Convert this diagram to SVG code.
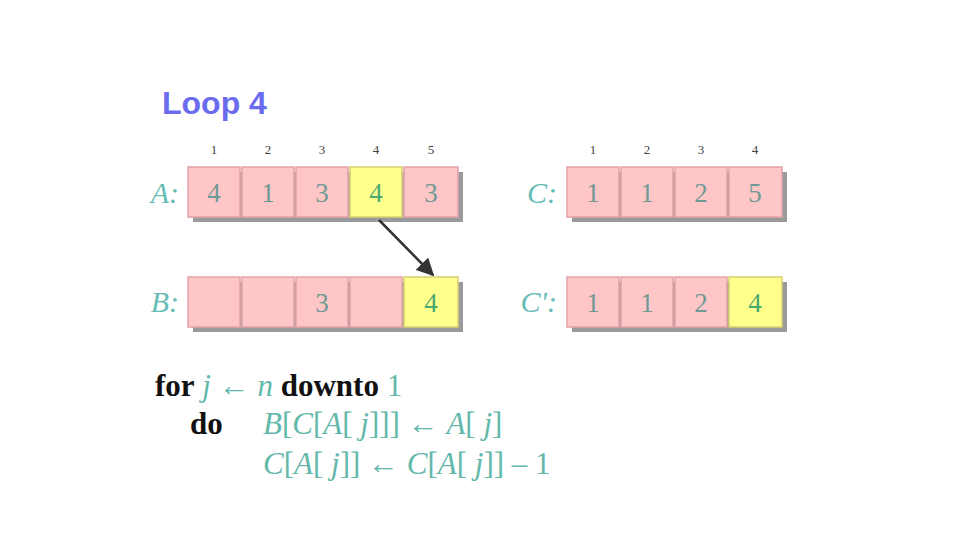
<svg xmlns="http://www.w3.org/2000/svg" width="960" height="540" viewBox="0 0 960 540">
<defs>
<style>
.cell{fill:#ffc6c8;stroke:#e2a2a8;stroke-width:1.5}
.hl{fill:#ffff8c;stroke:#d8d070;stroke-width:1.5}
.sh{fill:#9a9a9a}
.num{font-family:"Liberation Serif",serif;font-size:27px;fill:#6f9a94;text-anchor:middle}
.hnum{font-family:"Liberation Serif",serif;font-size:27px;fill:#4aa870;text-anchor:middle}
.idx{font-family:"Liberation Serif",serif;font-size:13px;fill:#444;text-anchor:middle}
.lbl{font-family:"Liberation Serif",serif;font-style:italic;font-size:30px;fill:#66bdb5;text-anchor:end}
.kw{font-family:"Liberation Serif",serif;font-weight:bold;font-size:31px;fill:#111}
.cd{font-family:"Liberation Serif",serif;font-size:31px;fill:#62b8aa}
.it{font-style:italic}
</style>
<marker id="ah" viewBox="0 0 10 10" refX="9" refY="5" markerWidth="7" markerHeight="7" orient="auto">
<path d="M0,0 L10,5 L0,10 z" fill="#333"/>
</marker>
</defs>
<rect width="960" height="540" fill="#fff"/>
<text x="162" y="114" font-family="Liberation Sans,Arial,sans-serif" font-weight="bold" font-size="32" fill="#6b6bf0">Loop 4</text>

<g id="arrayA">
<text class="lbl" x="179" y="203">A:</text>
<rect class="sh" x="193" y="172" width="270" height="50"/>
<rect class="cell" x="188" y="167" width="52" height="50"/>
<rect class="cell" x="242" y="167" width="52" height="50"/>
<rect class="cell" x="296" y="167" width="52" height="50"/>
<rect class="hl" x="350" y="167" width="52" height="50"/>
<rect class="cell" x="404" y="167" width="54" height="50"/>
<text class="num" x="214" y="202">4</text>
<text class="num" x="268" y="202">1</text>
<text class="num" x="322" y="202">3</text>
<text class="hnum" x="376" y="202">4</text>
<text class="num" x="431" y="202">3</text>
<text class="idx" x="214" y="154">1</text>
<text class="idx" x="268" y="154">2</text>
<text class="idx" x="322" y="154">3</text>
<text class="idx" x="376" y="154">4</text>
<text class="idx" x="431" y="154">5</text>
</g>

<g id="arrayC">
<text class="lbl" x="557" y="203">C:</text>
<rect class="sh" x="572" y="172" width="215" height="50"/>
<rect class="cell" x="567" y="167" width="52" height="50"/>
<rect class="cell" x="621" y="167" width="52" height="50"/>
<rect class="cell" x="675" y="167" width="52" height="50"/>
<rect class="cell" x="729" y="167" width="53" height="50"/>
<text class="num" x="593" y="202">1</text>
<text class="num" x="647" y="202">1</text>
<text class="num" x="701" y="202">2</text>
<text class="num" x="755" y="202">5</text>
<text class="idx" x="593" y="154">1</text>
<text class="idx" x="647" y="154">2</text>
<text class="idx" x="701" y="154">3</text>
<text class="idx" x="755" y="154">4</text>
</g>

<g id="arrayB">
<text class="lbl" x="179" y="312">B:</text>
<rect class="sh" x="193" y="282" width="270" height="50"/>
<rect class="cell" x="188" y="277" width="52" height="50"/>
<rect class="cell" x="242" y="277" width="52" height="50"/>
<rect class="cell" x="296" y="277" width="52" height="50"/>
<rect class="cell" x="350" y="277" width="52" height="50"/>
<rect class="hl" x="404" y="277" width="54" height="50"/>
<text class="num" x="322" y="312">3</text>
<text class="hnum" x="431" y="312">4</text>
</g>

<g id="arrayC2">
<text class="lbl" x="557" y="312">C':</text>
<rect class="sh" x="572" y="282" width="215" height="50"/>
<rect class="cell" x="567" y="277" width="52" height="50"/>
<rect class="cell" x="621" y="277" width="52" height="50"/>
<rect class="cell" x="675" y="277" width="52" height="50"/>
<rect class="hl" x="729" y="277" width="53" height="50"/>
<text class="num" x="593" y="312">1</text>
<text class="num" x="647" y="312">1</text>
<text class="num" x="701" y="312">2</text>
<text class="hnum" x="755" y="312">4</text>
</g>

<g id="connectors">
<line x1="379" y1="220" x2="433" y2="275" stroke="#333" stroke-width="2.5" marker-end="url(#ah)"/>
</g>

<g id="code">
<text x="155" y="396"><tspan class="kw">for</tspan><tspan class="cd it"> j</tspan><tspan class="cd"> ← </tspan><tspan class="cd it">n</tspan><tspan class="kw"> downto</tspan><tspan class="cd"> 1</tspan></text>
<text class="kw" x="190" y="434">do</text>
<text class="cd" x="263" y="434"><tspan class="it">B</tspan>[<tspan class="it">C</tspan>[<tspan class="it">A</tspan>[ <tspan class="it">j</tspan>]]] ← <tspan class="it">A</tspan>[ <tspan class="it">j</tspan>]</text>
<text class="cd" x="263" y="474"><tspan class="it">C</tspan>[<tspan class="it">A</tspan>[ <tspan class="it">j</tspan>]] ← <tspan class="it">C</tspan>[<tspan class="it">A</tspan>[ <tspan class="it">j</tspan>]] – 1</text>
</g>
</svg>
